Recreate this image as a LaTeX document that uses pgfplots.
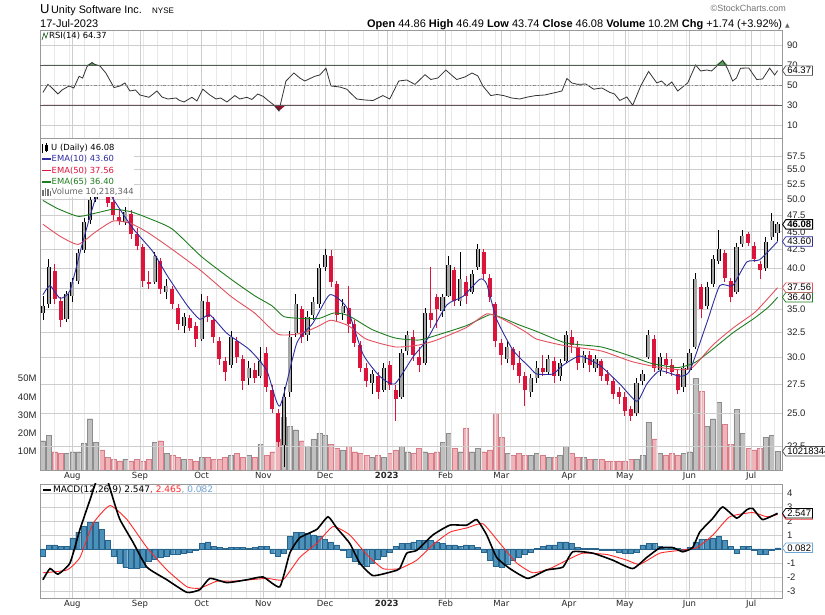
\documentclass[border=0pt]{standalone}
\usepackage{fontspec}
\setmainfont{DejaVu Sans}
\newfontfamily\lib{Liberation Sans}
\usepackage{pgfplots}
\usepackage{pgfplotstable}
\pgfplotsset{compat=1.18}
\usetikzlibrary{shapes.symbols}

\definecolor{candred}{RGB}{220,20,60}
\definecolor{candgrey}{RGB}{165,165,165}
\definecolor{volpink}{RGB}{238,180,186}
\definecolor{volpinkedge}{RGB}{215,125,135}
\definecolor{volgrey}{RGB}{192,192,192}
\definecolor{volgreyedge}{RGB}{140,140,140}
\definecolor{ematen}{RGB}{45,45,160}
\definecolor{emafifty}{RGB}{225,80,95}
\definecolor{emasixtyfive}{RGB}{30,125,30}
\definecolor{histblue}{RGB}{75,145,185}
\definecolor{histedge}{RGB}{40,100,140}
\definecolor{sigred}{RGB}{255,40,40}
\definecolor{lblblue}{RGB}{110,165,215}
\definecolor{gridmaj}{RGB}{205,205,205}
\definecolor{gridmin}{RGB}{232,232,232}

\pgfplotstableread{
d o h l c v
0 34.6 36.6 33.8 35.4 16
2 35.6 41.2 35.2 40.2 19
4 39.6 40.5 35.6 36.2 10
6 36.0 36.4 33.1 33.8 9
8 33.9 37.2 33.6 36.8 9
10 36.6 38.8 35.8 38.2 10
12 38.4 42.6 38.0 42.0 10
14 42.4 47.0 42.0 46.5 14.5
16 46.8 50.4 46.2 49.8 28
18 50.0 54.0 49.5 52.8 15
20 52.6 53.8 50.8 51.5 11
22 51.2 51.8 48.8 49.4 7
24 49.6 50.3 46.8 47.5 6
26 47.2 48.6 46.0 46.6 5
28 46.4 48.8 46.0 48.0 6
30 47.6 48.2 44.0 44.6 5
32 44.6 45.6 42.4 43.0 6
34 42.8 43.2 37.6 38.4 5
36 38.2 39.6 37.4 38.0 6
38 38.2 42.2 38.0 41.6 15
40 41.0 41.4 36.8 37.4 16
42 37.0 38.6 36.2 37.8 9
44 37.4 37.8 35.0 35.6 8
46 35.2 35.6 32.8 33.4 7
48 33.2 34.6 32.4 34.2 6
50 34.0 34.4 32.6 33.0 6
52 33.2 33.6 31.0 31.8 5
54 31.8 36.8 31.6 36.0 7
56 35.8 36.6 33.6 34.2 7
58 33.8 34.2 31.4 32.0 6
60 31.6 32.0 29.2 29.8 6
62 29.6 30.0 27.8 28.6 7
64 29.2 32.6 29.0 32.0 8
66 31.6 32.0 29.4 30.0 9
68 29.8 30.2 27.0 27.8 7
70 28.0 29.6 27.4 29.0 8
72 28.8 29.4 27.6 28.0 7
74 28.2 31.0 28.0 29.6 14
76 30.4 31.0 26.8 27.2 8
78 27.0 27.4 25.0 25.4 10
80 25.0 25.4 22.4 22.8 17
82 22.6 27.2 21.0 26.4 29
84 26.8 32.6 26.4 32.0 24
86 32.4 36.8 32.0 35.6 22
88 35.0 35.4 31.4 32.0 16
90 32.2 34.8 31.6 34.2 13
92 34.4 36.4 33.8 35.8 17
94 35.6 40.6 35.2 40.0 20
96 40.2 42.6 39.6 41.8 19
98 41.6 42.4 37.6 38.2 14
100 38.0 38.4 33.6 34.4 12
102 34.6 36.2 33.8 35.4 11
104 35.2 37.8 32.4 33.4 13
106 33.4 33.8 31.0 31.4 10
108 31.2 31.6 28.6 29.0 9
110 29.0 29.4 27.2 27.8 8
112 27.6 28.8 26.6 28.4 7
114 28.2 28.6 26.2 26.8 8
116 27.0 29.4 26.8 29.0 7
118 29.2 29.6 27.0 27.4 9
120 27.0 27.4 24.4 26.2 11
122 26.4 30.8 26.2 30.4 13
124 30.6 32.6 30.2 32.2 10
126 32.0 32.8 29.6 30.2 9
128 30.0 31.0 28.6 29.2 12
130 29.4 35.2 29.2 34.6 10
132 34.6 40.2 33.0 33.8 9
134 36.4 36.8 33.0 35.0 10
136 34.8 36.8 34.2 36.4 15
138 36.6 41.6 36.4 40.4 20
140 39.8 40.2 35.4 36.0 12
142 36.0 42.2 35.4 38.6 10
144 38.2 39.0 35.6 36.6 23
146 37.0 39.8 36.8 39.2 10
148 40.2 43.2 39.8 42.6 12
150 42.2 42.6 38.6 39.2 10
152 38.8 39.2 35.8 36.4 11
154 35.6 35.8 31.0 31.6 31
156 31.4 31.8 29.2 30.2 18
158 29.8 31.6 29.4 31.0 9
160 30.8 31.0 28.8 29.2 8
162 29.4 30.6 27.6 28.2 9
164 28.2 28.6 25.6 27.0 8
166 26.8 28.4 26.4 28.0 8
168 28.0 29.6 27.6 29.0 9
170 29.0 30.2 28.2 28.6 8
172 28.6 30.2 28.4 29.8 7
174 29.6 30.0 27.6 28.2 7
176 28.2 29.8 27.8 29.4 8
178 29.6 32.6 29.4 32.2 13
180 32.0 32.8 30.4 31.2 9
182 31.0 31.6 28.8 29.4 7
184 29.4 30.6 29.0 30.2 7
186 30.2 30.6 28.6 29.2 6
188 29.0 30.2 28.6 29.8 6
190 29.6 29.8 27.8 28.2 6
192 28.4 28.8 27.4 27.8 5
194 27.8 28.0 26.2 26.6 5
196 26.8 27.2 25.8 26.4 5
198 26.4 26.8 24.8 25.2 5
200 25.4 25.6 24.4 24.8 6
202 25.0 28.0 24.8 27.6 6
204 27.8 28.8 27.4 28.4 8
206 30.0 32.8 29.8 32.2 26
208 31.8 32.2 28.6 29.0 17
210 28.8 30.4 28.2 30.0 9
212 29.8 30.4 28.4 29.2 8
214 29.2 29.8 28.2 28.6 9
216 28.4 28.8 26.6 27.0 8
218 27.2 29.4 26.8 29.0 9
220 28.8 30.8 28.6 30.4 10
222 31.0 39.4 30.8 38.6 50
224 37.6 38.0 34.0 35.0 43
226 35.4 38.2 35.0 37.6 24
228 38.0 41.8 37.6 41.2 28
230 41.0 45.2 40.6 42.6 37
232 42.0 42.4 38.2 38.8 25
234 38.4 38.8 35.8 36.4 14
236 37.0 43.4 36.8 42.8 33
238 43.2 45.2 42.8 44.4 20
240 44.6 45.0 43.0 43.4 12
242 43.0 43.6 40.8 41.2 11
244 40.6 41.0 38.6 39.8 12
246 40.0 44.2 39.6 43.6 18
248 44.2 47.8 43.8 46.6 19
250 44.86 46.49 43.74 46.08 10.2
}\ohlc

\pgfplotstableread{
d e
0 36.7
2.4 37.8
5.8 36.3
9.2 37.2
13.6 43.6
18.4 50.9
21 52.2
23.8 50.1
30.6 45.5
37.4 42.2
42.2 39.1
49 35.5
53.4 33.9
56.8 34.4
62.6 32.4
70.4 30.7
76.2 28.7
80.6 25.6
86.4 31.4
91.9 33.5
97.6 36.7
103.4 35.2
108.9 30.3
114.6 28.2
119.7 27.5
125.9 30.0
130.6 31.7
137.4 35.5
142.9 36.5
148.7 38.6
151 38.0
154.4 33.9
159.9 30.7
165.7 29.0
168 28.4
173.5 28.4
176.9 29.2
182.7 30.1
189.5 29.2
196.3 27.5
202.1 26.0
205.5 27.5
209.9 28.7
216.7 28.2
220.1 28.7
225.9 33.5
230.3 37.8
234.7 37.8
239.5 40.8
243.9 41.1
250 43.6
}\emaA

\pgfplotstableread{
d e
0 46.1
6 44.3
12 43.2
18 45.0
24 46.6
30 46.2
36 44.8
44 42.5
54 39.6
64 36.5
72 34.6
80 32.3
88 32.4
94 33.2
98 33.8
104 33.2
110 31.8
120 31.0
128 31.2
134 31.7
144 33.0
151 34.5
156 34.0
164 32.6
168 31.8
178 31.1
190 30.6
200 29.6
208 29.1
216 28.8
221 29.0
228 31.2
235 33.0
242 34.6
246 36.0
250 37.56
}\emaB

\pgfplotstableread{
d e
0 49.8
5 48.5
12 47.3
18 47.8
24 48.4
30 48.0
36 47.0
44 45.4
54 41.5
64 38.6
72 36.6
78 35.4
82 34.2
88 34.0
94 34.0
99 34.6
104 34.3
112 32.8
120 31.9
128 31.7
134 32.2
144 33.2
152 34.4
156 34.1
162 33.3
168 32.6
178 31.4
190 31.0
200 30.1
207 29.4
216 29.0
222 29.5
228 30.8
235 32.5
242 34.0
247 35.3
250 36.4
}\emaC

\pgfplotstableread{
d r
0 42.6
1.7 50.6
3.1 47
5.1 41
6.5 45
8.9 49
10.5 47
12.3 58.7
13.5 57
15 68.4
16.7 72.5
17.7 70.5
19.4 69
21.4 62
24.2 47.4
26.2 49
27.9 52
29.6 44
31.5 45
33 40
36.1 37.7
38.8 44
40.5 38
42.5 36
45.3 37
46.5 34.5
48 33
50.7 37.7
52.4 34
54.4 45.8
56.8 40
58.9 36
60.5 37
62.6 33
65.3 39.4
67 36
69.4 37.7
71.1 35.5
73.1 41
75 38.5
76.6 34.5
78.6 30
80.3 24
82.7 54
85.4 62
87.4 57
89.1 54
92.5 58.7
94.2 60
96.3 66.8
98 49
101 48
103.4 45.8
105 41
106.8 36
109.5 35
112.3 34.5
115.7 39.4
118 36
121.1 54
123.8 55
126.6 50.6
128.5 56
130 60.3
132 55.5
134.4 57
137.1 65
139 60
140.8 55.5
143.6 58
146 62
148 59
149.7 49
152.4 39.4
154.5 40.5
156.8 39.4
159.5 37
162.3 36
165 38
167.7 39.4
170.8 40
172.2 41
174.5 42.5
176.6 44
178.3 56.5
180 52
182 50.6
184.7 51
187.4 45.8
190.2 47
192.9 42.6
194.5 41
196.3 34.5
198.7 38
200.7 29.7
203.4 49
206.1 63.5
208.9 52
210.5 54
212.3 49
214 53
216 44
219.4 52
222.1 70
223.8 64
225.9 65
227.5 64
229 68
231.3 74.8
233 66
234.7 54
236 57
237.4 66.8
240.2 67
242.9 55.5
244.9 56
247.3 66.8
249 60
250 64.37
}\rsi

\pgfplotstableread{
d m
0 -2.2
2.4 -1.4
5.1 -1.8
9.2 -1.0
12.6 1.4
16 3.5
18.4 5.0
20 5.4
21.8 5.0
24 3.5
26.2 2.1
30.6 0.5
35.4 -1.3
42.2 -2.2
49 -3.1
53.4 -2.9
56.8 -2.1
62.6 -2.4
69.4 -2.2
74.9 -2.0
80.6 -2.7
84 -0.3
87.4 0.8
93.2 1.4
97 2.3
100 1.5
104.4 0.4
107.8 -1.0
112.3 -1.9
119.1 -1.6
121.4 -1.4
123.8 -0.3
127.2 -0.1
132.7 1.0
138.5 1.7
144.2 1.7
147.6 2.1
151 1.0
154.4 -0.6
158.9 -1.4
165 -2.1
171.4 -1.5
176.9 -1.3
180.3 -0.2
187.1 -0.3
193.9 -0.8
200.7 -1.4
205.5 -0.6
209.9 0.07
214.3 0.1
217.7 -0.2
221.1 0.1
223.5 1.2
228 2.2
231.3 3.0
236.1 2.2
239.5 2.8
241.5 2.9
244.9 2.1
250 2.547
}\macd

\pgfplotstableread{
d s
0 -1.7
8.2 -1.5
12.6 -0.6
17 1.8
22.8 3.1
28.6 2.1
35.4 0.1
42.2 -1.5
49 -2.7
53.4 -2.8
59.2 -2.3
64.6 -2.3
76.2 -2.1
81.7 -2.2
87.4 -0.6
93.2 0.4
98.7 1.6
104.4 1.0
110.2 -0.4
115.7 -1.4
121.4 -1.4
127.2 -0.8
132.7 0.3
138.5 1.2
144.2 1.5
149.7 1.8
155.5 0.4
161.2 -1.0
166.7 -1.7
172.5 -1.4
178.3 -0.8
183.7 -0.3
192 -0.4
198.7 -0.8
203.1 -1.1
209.9 -0.3
216.7 -0.1
222.5 0.1
228 1.0
233.7 2.3
241.5 2.6
246.3 2.3
250 2.465
}\sig

\pgfplotstableread{
d hv
0 -0.5
2 0.3
4 0.3
6 0.2
8 0.2
10 0.8
12 1.2
14 1.6
16 1.9
18 1.9
20 1.4
22 0.6
24 -0.5
26 -1.0
28 -1.3
30 -1.4
32 -1.4
34 -1.3
36 -0.9
38 -0.7
40 -0.6
42 -0.5
44 -0.4
46 -0.4
48 -0.3
50 -0.2
52 -0.1
54 0.4
56 0.5
58 0.2
60 0.1
62 0.03
64 0.1
66 0.1
68 0.1
70 0.05
72 0.1
74 0.2
76 0.2
78 -0.3
80 -0.5
82 -0.3
84 0.9
86 1.2
88 1.2
90 1.1
92 1.0
94 0.9
96 0.7
98 0.5
100 0.3
102 -0.1
104 -0.6
106 -0.9
108 -1.1
110 -1.2
112 -1.0
114 -0.7
116 -0.5
118 -0.2
120 0.2
122 0.4
124 0.4
126 0.5
128 0.6
130 0.6
132 0.6
134 0.5
136 0.4
138 0.3
140 0.3
142 0.2
144 0.3
146 0.25
148 0.1
150 -0.2
152 -0.8
154 -1.2
156 -1.3
158 -1.1
160 -0.8
162 -0.6
164 -0.4
166 -0.2
168 0.03
170 0.2
172 0.3
174 0.3
176 0.5
178 0.5
180 0.4
182 0.1
184 0.05
186 0.03
188 0.03
190 -0.05
192 -0.1
194 -0.1
196 -0.2
198 -0.3
200 -0.3
202 -0.2
204 0.3
206 0.4
208 0.4
210 0.2
212 0.1
214 0.1
216 0.03
218 -0.1
220 0.1
222 0.5
224 0.7
226 0.7
228 0.8
230 0.9
232 0.6
234 0.2
236 -0.3
238 0.2
240 0.2
242 -0.1
244 -0.4
246 -0.4
248 -0.1
250 0.082
}\hist

\pgfplotsset{
 panel/.style={scale only axis, width=742pt, xmin=-1, xmax=251.5,
   axis line style={draw=black!40},
   xtick={10,33,54,75,96,117,137,156,179,198,220,241},
   minor xtick={4,9,...,249},
   xmajorgrids, xminorgrids,
   major grid style={gridmaj, line width=0.5pt},
   minor grid style={gridmin, line width=0.4pt},
   major tick length=0pt, minor tick length=0pt,
   yticklabel pos=right,
   ticklabel style={font=\lib\fontsize{9.5}{10}\selectfont, text=black!85},
   yticklabel style={xshift=1.5pt},
   /pgf/number format/assume math mode=true,
   clip mode=individual,
 },
 monthlabels/.style={xticklabels={Aug,Sep,Oct,Nov,Dec,\textbf{2023},Feb,Mar,Apr,May,Jun,Jul},
   xticklabel style={font=\rmfamily\fontsize{8.5}{9}\selectfont, text=black!85, yshift=1pt}},
}
\tikzset{tag/.style={shape=signal, signal to=west, signal pointer angle=110, fill=white,
   line width=0.7pt, inner xsep=1.5pt, inner ysep=1.4pt, anchor=west,
   font=\lib\fontsize{9.5}{9.5}\selectfont}}

\begin{document}
\begin{tikzpicture}
\path[use as bounding box, fill=white] (0,0) rectangle (825pt,615pt);

% ---------------- RSI ----------------
\begin{axis}[panel, at={(40pt,477pt)}, anchor=south west, height=108pt,
  ymin=-3, ymax=105, ytick={10,30,50,70,90}, ymajorgrids, xticklabels={}]
\addplot[fill=emasixtyfive!75, draw=none] table[x=d, y expr={max(\thisrow{r},70)}]{\rsi} -- (axis cs:250,70) -- (axis cs:0,70) -- cycle;
\addplot[fill=candred!70!black, draw=none] table[x=d, y expr={min(\thisrow{r},30)}]{\rsi} -- (axis cs:250,30) -- (axis cs:0,30) -- cycle;
\addplot[black!80, line width=0.8pt] table[x=d,y=r]{\rsi};
\draw[black!65, line width=0.7pt] (axis cs:-1,70) -- (axis cs:251.5,70);
\draw[black!65, line width=0.7pt] (axis cs:-1,30) -- (axis cs:251.5,30);
\draw[black!45, line width=0.7pt, dash dot] (axis cs:-1,50) -- (axis cs:251.5,50);
\node[tag, draw=black!70] at (axis cs:251.5,64.37) {64.37};
\end{axis}

% ---------------- Volume ----------------
\begin{axis}[scale only axis, width=742pt, height=332pt, at={(40pt,145pt)}, anchor=south west,
  xmin=-1, xmax=251.5, ymin=0, ymax=181.4, hide x axis, axis line style={draw=none},
  ytick={10,20,30,40,50}, yticklabels={10M,20M,30M,40M,50M}, major tick length=0pt,
  yticklabel style={font=\lib\fontsize{9.5}{10}\selectfont, text=black!85},
  clip mode=individual]
\addplot[ybar, bar width=5pt, bar shift=0pt, fill=volgrey, draw=volgreyedge, line width=0.3pt,
  x filter/.expression={\thisrow{c}<\thisrow{o} ? nan : x}] table[x=d,y=v]{\ohlc};
\addplot[ybar, bar width=5pt, bar shift=0pt, fill=volpink, draw=volpinkedge, line width=0.3pt,
  x filter/.expression={\thisrow{c}<\thisrow{o} ? x : nan}] table[x=d,y=v]{\ohlc};
\end{axis}

% ---------------- Price ----------------
\begin{axis}[panel, at={(40pt,145pt)}, anchor=south west, height=332pt,
  ymode=log, ymin=20.82, ymax=60.95,
  ytick={22.5,25,27.5,30,32.5,35,37.5,40,42.5,45,47.5,50,52.5,55,57.5},
  yticklabel={\pgfmathparse{exp(\tick)}\pgfmathprintnumber[fixed,fixed zerofill,precision=1]{\pgfmathresult}},
  ymajorgrids, monthlabels]
% up candles
\addplot[draw=none, mark=none, forget plot,
  x filter/.expression={\thisrow{c}<\thisrow{o} ? nan : x},
  error bars/.cd, y dir=both, y explicit, error mark=none,
  error bar style={black, line width=0.8pt}]
  table[x=d, y=c, y error plus expr=\thisrow{h}-\thisrow{c}, y error minus expr=\thisrow{c}-\thisrow{l}]{\ohlc};
\addplot[draw=none, mark=none, forget plot,
  x filter/.expression={\thisrow{c}<\thisrow{o} ? nan : x},
  error bars/.cd, y dir=both, y explicit, error mark=none,
  error bar style={black, line width=4.2pt}]
  table[x=d, y=c, y error plus expr=0, y error minus expr=\thisrow{c}-\thisrow{o}]{\ohlc};
\addplot[draw=none, mark=none, forget plot,
  x filter/.expression={\thisrow{c}<\thisrow{o} ? nan : x},
  error bars/.cd, y dir=both, y explicit, error mark=none,
  error bar style={candgrey, line width=2.6pt}]
  table[x=d, y=c, y error plus expr=0, y error minus expr=\thisrow{c}-\thisrow{o}]{\ohlc};
% down candles
\addplot[draw=none, mark=none, forget plot,
  x filter/.expression={\thisrow{c}<\thisrow{o} ? x : nan},
  error bars/.cd, y dir=both, y explicit, error mark=none,
  error bar style={candred, line width=0.8pt}]
  table[x=d, y=c, y error plus expr=\thisrow{h}-\thisrow{c}, y error minus expr=\thisrow{c}-\thisrow{l}]{\ohlc};
\addplot[draw=none, mark=none, forget plot,
  x filter/.expression={\thisrow{c}<\thisrow{o} ? x : nan},
  error bars/.cd, y dir=both, y explicit, error mark=none,
  error bar style={candred, line width=4.0pt}]
  table[x=d, y=c, y error plus expr=\thisrow{o}-\thisrow{c}, y error minus expr=0]{\ohlc};
% EMAs
\addplot[emasixtyfive, line width=0.9pt, smooth, tension=0.35] table[x=d,y=e]{\emaC};
\addplot[emafifty, line width=0.9pt, smooth, tension=0.35] table[x=d,y=e]{\emaB};
\addplot[ematen, line width=0.9pt, smooth, tension=0.35] table[x=d,y=e]{\emaA};
% tags
\node[tag, draw=emasixtyfive] at (axis cs:251.5,36.40) {36.40};
\node[tag, draw=emafifty] at (axis cs:251.5,37.56) {37.56};
\node[tag, draw=ematen] at (axis cs:251.5,43.60) {43.60};
\node[tag, draw=black, line width=0.9pt] at (axis cs:251.5,46.08) {\textbf{46.08}};
\node[tag, draw=black!70] at (rel axis cs:1,0.0563) {10218344};
\end{axis}

% ---------------- MACD ----------------
\begin{axis}[panel, at={(40pt,17pt)}, anchor=south west, height=114pt,
  ymin=-3.5, ymax=4.64, ytick={-3,-2,-1,0,1,2,3,4}, ymajorgrids, monthlabels]
\addplot[ybar, bar width=5pt, bar shift=0pt, fill=histblue, draw=histedge, line width=0.3pt] table[x=d,y=hv]{\hist};
\addplot[sigred, line width=0.9pt, smooth, tension=0.3] table[x=d,y=s]{\sig};
\addplot[black, line width=1.6pt, smooth, tension=0.3] table[x=d,y=m]{\macd};
\node[tag, draw=sigred] at (axis cs:251.5,2.465) {2.465};
\node[tag, draw=black] at (axis cs:251.5,2.547) {2.547};
\node[tag, draw=lblblue] at (axis cs:251.5,0.082) {0.082};
\end{axis}

% ---------------- Overlays / labels ----------------
\fill[white] (40.5pt,418pt) rectangle (134pt,476.4pt);
\draw[black, line width=0.5pt] (42.5pt,462pt)--(42.5pt,471pt);
\fill[black] (41.6pt,464pt) rectangle (43.4pt,469pt);
\draw[black, line width=0.5pt] (46pt,463pt)--(46pt,472pt);
\draw[black, line width=0.4pt] (45.1pt,465pt) rectangle (46.9pt,470pt);
\node[anchor=west, inner sep=0] at (51pt,467pt) {\fontsize{8.4}{9}\selectfont U (Daily) 46.08};
\draw[ematen, line width=1.3pt] (42pt,456pt)--(51pt,456pt);
\node[anchor=west, inner sep=0] at (51.5pt,456pt) {\fontsize{8.4}{9}\selectfont\color{ematen}EMA(10) 43.60};
\draw[candred, line width=1.3pt] (42pt,444.5pt)--(51pt,444.5pt);
\node[anchor=west, inner sep=0] at (51.5pt,444.5pt) {\fontsize{8.4}{9}\selectfont\color{candred}EMA(50) 37.56};
\draw[emasixtyfive, line width=1.3pt] (42pt,433pt)--(51pt,433pt);
\node[anchor=west, inner sep=0] at (51.5pt,433pt) {\fontsize{8.4}{9}\selectfont\color{emasixtyfive}EMA(65) 36.40};
\fill[black!55] (42pt,419pt) rectangle (43.5pt,425pt);
\fill[black!55] (44.5pt,419pt) rectangle (46pt,427pt);
\fill[black!55] (47pt,419pt) rectangle (48.5pt,426pt);
\fill[black!55] (49.5pt,419pt) rectangle (51pt,424pt);
\node[anchor=west, inner sep=0] at (51.5pt,423pt) {\fontsize{8.4}{9}\selectfont\color{black!60}Volume 10,218,344};

\draw[emasixtyfive!60!black, line width=0.6pt] (42pt,575pt)--(44pt,582pt)--(46pt,577pt)--(48pt,583pt);
\node[anchor=west, inner sep=0] at (49pt,579pt) {\fontsize{8.4}{9}\selectfont RSI(14) 64.37};

\draw[black, line width=1.6pt] (43pt,125pt)--(51pt,125pt);
\node[anchor=west, inner sep=0] at (53pt,125pt) {\fontsize{9}{9}\selectfont MACD(12,26,9) 2.547{\color{sigred}, 2.465}{\color{lblblue}, 0.082}};

\node[anchor=base west, inner sep=0] at (40pt,601pt) {\lib\fontsize{13}{13}\selectfont U};
\node[anchor=base west, inner sep=0] at (51pt,601pt) {\lib\fontsize{10.8}{11}\selectfont Unity Software Inc.};
\node[anchor=base west, inner sep=0] at (152pt,601pt) {\lib\fontsize{8}{8}\selectfont NYSE};
\node[anchor=base east, inner sep=0] at (786pt,603pt) {\lib\fontsize{9}{9}\selectfont\color{black!55}\textcopyright StockCharts.com};
\node[anchor=base west, inner sep=0] at (40pt,587pt) {\lib\fontsize{11}{11}\selectfont 17-Jul-2023};
\node[anchor=base east, inner sep=0] at (790pt,587pt) {\lib\fontsize{11}{11}\selectfont\textbf{Open} 44.86 \textbf{High} 46.49 \textbf{Low} 43.74 \textbf{Close} 46.08 \textbf{Volume} 10.2M \textbf{Chg} +1.74 (+3.92\%)\ {\rmfamily\fontsize{6}{6}\selectfont\color{black!60}▲}};
\end{tikzpicture}
\end{document}
